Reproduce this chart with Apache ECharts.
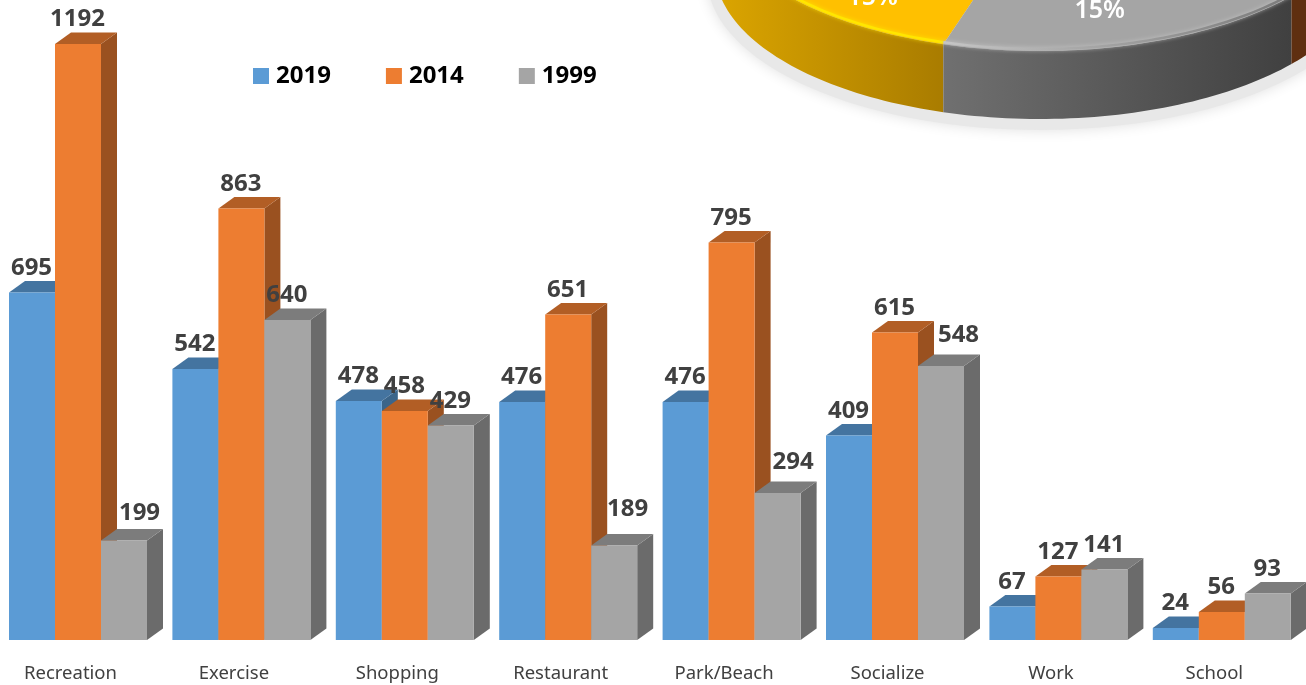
<!DOCTYPE html>
<html>
<head>
<meta charset="utf-8">
<style>html,body{margin:0;padding:0;background:#fff}#c{width:1306px;height:685px}</style>
<script src="https://cdn.jsdelivr.net/npm/echarts@6/dist/echarts.min.js"></script>
</head>
<body>
<div id="c"></div>
<script>
var categories = ['Recreation','Exercise','Shopping','Restaurant','Park/Beach','Socialize','Work','School'];
var values2019 = [695,542,478,476,476,409,67,24];
var values2014 = [1192,863,458,651,795,615,127,56];
var values1999 = [199,640,429,189,294,548,141,93];
var seriesNames = ['2019','2014','1999'];

var pieShares = [15,15,15];
var pieLabels = ['15%','15%',''];

var barColors = ['#5B9BD5','#ED7D31','#A5A5A5'];
var fontFamily = '"Noto Sans", sans-serif';
/* hand-placed value labels in the original, keyed by "series:category" */
var labelNudges = {'2:0':[16,-2.5],'2:3':[14,-11.5],'2:4':[16,-6.5],'2:5':[18,-6.5]};

function shade(hex,f){
  var n=parseInt(hex.slice(1),16);
  return 'rgb('+Math.round((n>>16&255)*f)+','+Math.round((n>>8&255)*f)+','+Math.round((n&255)*f)+')';
}

function barRender(seriesIdx){
  return function(params,api){
    var p=api.coord([api.value(0),api.value(1)]);
    var base=api.coord([api.value(0),0]);
    var band=api.size([1,0])[0];
    var w=band*46/163.4, dx=16, dy=11.5;
    var x0=p[0]+7.5-1.5*w+seriesIdx*w, x1=x0+w, top=p[1], bot=base[1];
    var c=barColors[seriesIdx];
    var nudge=labelNudges[seriesIdx+':'+api.value(0)]||[0,0];
    return {type:'group',children:[
      {type:'polygon',shape:{points:[[x1,top],[x1+dx,top-dy],[x1+dx,bot-dy],[x1,bot]]},style:{fill:shade(c,0.65)}},
      {type:'polygon',shape:{points:[[x0,top],[x0+dx,top-dy],[x1+dx,top-dy],[x1,top]]},style:{fill:shade(c,0.75)}},
      {type:'rect',shape:{x:x0,y:top,width:w,height:bot-top},style:{fill:c}},
      {type:'text',z2:100,style:{text:String(api.value(1)),x:(x0+x1)/2+nudge[0]-0.5,y:top-24.5+nudge[1],align:'center',verticalAlign:'middle',
        font:'bold 24px '+fontFamily,fill:'#404040'}}
    ]};
  };
}

/* 3D pie fragment: ellipse geometry, seams derived from the shares */
var pie={cx:1040,cy:-31,a:325,b:150,depth:68,degPerPct:68/15,start:-85.3};
var pieStyle=[
  {top:'#FFC000',rim:['#DBA500','#A97C00'],bevel:['#FFE600','#FFE600'],nudge:[0,35]},
  {top:'#A5A5A5',rim:['#707070','#404040'],bevel:['#C6C6C6','#7A7A7A'],nudge:[-2,15]},
  {top:'#C55A11',rim:['#5F2F10','#5F2F10'],bevel:['#C55A11','#C55A11'],nudge:[0,0]}
];
function ell(t,cy,r){
  r=r==null?1:r;
  var a=t*Math.PI/180;
  return [pie.cx+pie.a*r*Math.sin(a),cy+pie.b*r*Math.cos(a)];
}
function arc(t0,t1,cy,r){
  var pts=[];for(var i=0;i<=48;i++){pts.push(ell(t0+(t1-t0)*i/48,cy,r));}
  return pts;
}
function pieRender(params,api){
  var idx=params.dataIndex, t0=pie.start;
  for(var i=0;i<idx;i++){t0+=pieShares[i]*pie.degPerPct;}
  var t1=t0+pieShares[idx]*pie.degPerPct;
  var cyTop=pie.cy-pie.depth, s=pieStyle[idx];
  var r0=Math.max(t0,-90), r1=Math.min(t1,90);
  var top=arc(r0,r1,cyTop), low=arc(r0,r1,pie.cy);
  var mid=(t0+t1)/2, lp=ell(mid,cyTop,0.66);
  var kids=[
    {type:'polygon',shape:{points:[[pie.cx,cyTop]].concat(top)},style:{fill:s.top}},
    {type:'polygon',shape:{points:top.concat(low.slice().reverse())},
      style:{fill:new echarts.graphic.LinearGradient(0,0,1,0,[{offset:0,color:s.rim[0]},{offset:1,color:s.rim[1]}])}},
    {type:'polyline',shape:{points:arc(r0,r1,cyTop-2)},style:{fill:null,
      stroke:new echarts.graphic.LinearGradient(0,0,1,0,[{offset:0,color:s.bevel[0]},{offset:1,color:s.bevel[1]}]),
      lineWidth:2.5,shadowBlur:4,shadowColor:s.bevel[0]}}
  ];
  if(pieLabels[idx]){
    kids.push({type:'text',z2:20,style:{text:pieLabels[idx],x:lp[0]+s.nudge[0],y:lp[1]+s.nudge[1],align:'center',verticalAlign:'middle',
      font:'600 25px '+fontFamily,fill:'#fff'}});
  }
  return {type:'group',children:kids};
}
function pieShadow(){
  return {type:'ellipse',shape:{cx:pie.cx,cy:pie.cy+8,rx:pie.a+8,ry:pie.b+3},
    style:{fill:'#E8E8E8',shadowBlur:14,shadowColor:'#E0E0E0'}};
}

var chart=echarts.init(document.getElementById('c'),null,{renderer:'canvas'});
function barSeries(idx,vals){
  return {name:seriesNames[idx],type:'custom',z:3,renderItem:barRender(idx),
    itemStyle:{color:barColors[idx]},encode:{x:0,y:1},clip:false,
    data:vals.map(function(v,i){return [i,v];})};
}
chart.setOption({
  animation:false,
  backgroundColor:'#fff',
  legend:{data:seriesNames,left:248,top:59,icon:'rect',itemWidth:16,itemHeight:16,itemGap:55,
    textStyle:{fontFamily:fontFamily,fontWeight:'bold',fontSize:24,color:'#000',padding:[0,0,0,2]}},
  grid:{left:70.5,width:1143.8,top:40,bottom:45,containLabel:false},
  xAxis:{type:'category',boundaryGap:false,data:categories,axisLine:{show:false},axisTick:{show:false},
    axisLabel:{interval:0,margin:24,fontFamily:fontFamily,fontSize:18.5,color:'#404040'}},
  yAxis:{type:'value',min:0,max:1200,show:false,splitLine:{show:false}},
  series:[
    {type:'custom',name:'shadow',coordinateSystem:'none',z:1,silent:true,renderItem:pieShadow,data:[0]},
    {type:'custom',name:'pie',coordinateSystem:'none',z:2,silent:true,renderItem:pieRender,data:pieShares},
    barSeries(0,values2019),
    barSeries(1,values2014),
    barSeries(2,values1999)
  ]
});
</script>
</body>
</html>
